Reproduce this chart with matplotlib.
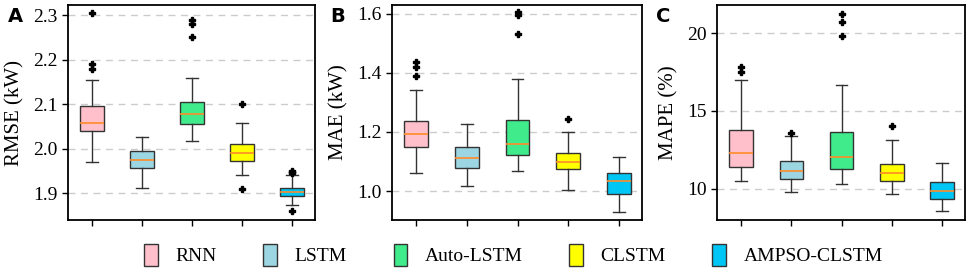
import matplotlib
matplotlib.use("Agg")
import matplotlib.pyplot as plt
from matplotlib.patches import Patch

models = ["RNN", "LSTM", "Auto-LSTM", "CLSTM", "AMPSO-CLSTM"]
colors = ["#FFC0CB", "#9DD6E3", "#3FEB8B", "#FFFF00", "#00C6F5"]

# box stats per model: [whislo, q1, med, q3, whishi]
rmse_stats = [[1.970, 2.040, 2.058, 2.096, 2.155],
              [1.912, 1.957, 1.974, 1.996, 2.026],
              [2.018, 2.056, 2.078, 2.105, 2.160],
              [1.942, 1.972, 1.990, 2.010, 2.057],
              [1.873, 1.895, 1.904, 1.913, 1.940]]
rmse_fliers = [[2.180, 2.190, 2.305], [], [2.250, 2.280, 2.290],
               [1.910, 2.100], [1.860, 1.945, 1.948, 1.950]]

mae_stats = [[1.060, 1.148, 1.192, 1.238, 1.342],
             [1.018, 1.078, 1.110, 1.150, 1.228],
             [1.066, 1.123, 1.160, 1.240, 1.380],
             [1.002, 1.075, 1.097, 1.128, 1.200],
             [0.930, 0.990, 1.035, 1.062, 1.115]]
mae_fliers = [[1.390, 1.420, 1.435], [], [1.530, 1.595, 1.605], [1.243], []]

mape_stats = [[10.50, 11.40, 12.30, 13.75, 17.00],
              [9.75, 10.60, 11.10, 11.80, 13.40],
              [10.30, 11.25, 12.00, 13.65, 16.65],
              [9.65, 10.50, 11.00, 11.55, 13.10],
              [8.55, 9.35, 9.85, 10.45, 11.65]]
mape_fliers = [[17.50, 17.80], [13.55], [19.80, 20.70, 21.20], [14.00], []]

panels = [("A", "RMSE (kW)", rmse_stats, rmse_fliers, (1.84, 2.323), [1.9, 2.0, 2.1, 2.2, 2.3], "%.1f"),
          ("B", "MAE (kW)", mae_stats, mae_fliers, (0.902, 1.629), [1.0, 1.2, 1.4, 1.6], "%.1f"),
          ("C", "MAPE (%)", mape_stats, mape_fliers, (7.98, 21.8), [10, 15, 20], "%d")]

plt.rcParams["font.family"] = ["Liberation Serif", "DejaVu Serif"]

fig = plt.figure(figsize=(9.69, 2.74), dpi=100)
W, H = 969, 274
boxes_px = [(68, 315), (392, 642), (717, 965)]
top_px, bot_px = 5, 220

for (letter, ylabel, stats, fliers, ylim, yticks, fmt), (x0, x1) in zip(panels, boxes_px):
    ax = fig.add_axes([x0 / W, 1 - bot_px / H, (x1 - x0) / W, (bot_px - top_px) / H])
    bxp = []
    for name, s, f in zip(models, stats, fliers):
        bxp.append(dict(label=name, whislo=s[0], q1=s[1], med=s[2], q3=s[3], whishi=s[4], fliers=f))
    res = ax.bxp(bxp, positions=range(1, 6), widths=0.47, patch_artist=True,
                 boxprops=dict(edgecolor="#333333", linewidth=1.0),
                 medianprops=dict(color="#FF8C28", linewidth=1.2),
                 whiskerprops=dict(color="#333333", linewidth=1.0),
                 capprops=dict(color="#333333", linewidth=1.0),
                 flierprops=dict(marker="P", markersize=4, markerfacecolor="black",
                                 markeredgecolor="black", linestyle="none"))
    for patch, c in zip(res["boxes"], colors):
        patch.set_facecolor(c)
    ax.set_xlim(0.52, 5.46)
    ax.set_ylim(*ylim)
    ax.set_yticks(yticks)
    ax.set_yticklabels([fmt % t for t in yticks])
    ax.set_xticklabels([])
    ax.yaxis.grid(True, linestyle=(0, (5, 4)), color="#CCCCCC", linewidth=1.0)
    ax.set_axisbelow(True)
    ax.tick_params(axis="both", labelsize=14, length=4, width=1)
    ax.set_ylabel(ylabel, fontsize=15, labelpad=6)
    for sp in ax.spines.values():
        sp.set_linewidth(1.3)
    ax.text(-0.245, 0.99, letter, transform=ax.transAxes,
            fontsize=14, fontweight="bold", family="DejaVu Sans", va="top", ha="left")

handles = [Patch(facecolor=c, edgecolor="#333333", label=m) for m, c in zip(models, colors)]
fig.legend(handles=handles, loc="center", bbox_to_anchor=(0.53, 0.07), ncol=5, frameon=False,
           fontsize=14, handlelength=0.7, handleheight=1.4, columnspacing=2.4, handletextpad=0.9)

fig.savefig("out.png", dpi=100)
